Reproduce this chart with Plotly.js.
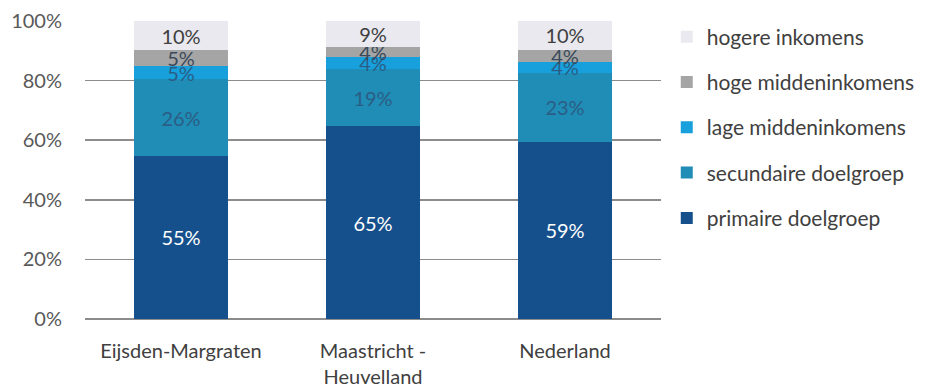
<!DOCTYPE html>
<html><head><meta charset="utf-8">
<script src="https://cdn.plot.ly/plotly-3.0.1.min.js"></script>
<style>html,body{margin:0;padding:0;background:#fff;}#chart{width:934px;height:390px;}</style>
</head><body><div id="chart"></div>
<script>
var categories = ["Eijsden-Margraten", "Maastricht -<br>Heuvelland", "Nederland"];
var seriesNames = ["primaire doelgroep", "secundaire doelgroep", "lage middeninkomens", "hoge middeninkomens", "hogere inkomens"];
var primaire = [54.8, 64.6, 59.4];
var secundaire = [25.6, 19.4, 23.2];
var lageMidden = [4.6, 3.8, 3.8];
var hogeMidden = [5.2, 3.6, 4.0];
var hogere = [9.8, 8.6, 9.6];
var seriesValues = [primaire, secundaire, lageMidden, hogeMidden, hogere];
var yTickVals = [0, 20, 40, 60, 80, 100];
var yTickText = ["0%", "20%", "40%", "60%", "80%", "100%"];

var colors = ["#16508c", "#1f8db5", "#17a0db", "#a5a5a5", "#e9e9ef"];
var textColors = ["#ffffff", "#2b5d86", "#2b5d86", "#3a4a5a", "#404040"];
var FONT = "Lato, 'Open Sans', sans-serif";

var traces = seriesValues.map(function (vals, i) {
  return {
    type: "bar",
    name: seriesNames[i],
    legendgroup: "g" + i,
    legendrank: seriesValues.length - i,
    x: categories,
    y: vals,
    marker: {color: colors[i], line: {width: 0}},
    text: vals.map(function (v) { return Math.round(v) + "%"; }),
    textposition: "inside",
    insidetextanchor: "middle",
    textangle: 0,
    constraintext: "none",
    textfont: {family: FONT, size: 20, color: textColors[i]},
    hoverinfo: "none"
  };
});

var layout = {
  width: 934, height: 390,
  margin: {l: 85, r: 273, t: 21, b: 71},
  barmode: "stack",
  bargap: 0.515,
  paper_bgcolor: "#ffffff",
  plot_bgcolor: "#ffffff",
  font: {family: FONT, size: 20, color: "#595959"},
  uniformtext: {mode: "show", minsize: 20},
  xaxis: {
    type: "category",
    showgrid: false,
    showline: false,
    zeroline: false,
    ticks: "",
    ticklabelstandoff: 18,
    tickfont: {family: FONT, size: 20, color: "#404040"}
  },
  yaxis: {
    range: [0, 100],
    tickvals: yTickVals,
    ticktext: yTickText,
    showgrid: true,
    gridcolor: "#8c8c8c",
    gridwidth: 1.5,
    zeroline: true,
    zerolinecolor: "#8c8c8c",
    zerolinewidth: 1.5,
    showline: false,
    ticks: "",
    ticklabelstandoff: 22,
    tickfont: {family: FONT, size: 20, color: "#595959"}
  },
  legend: {
    x: 1.01, y: 1.015, xanchor: "left", yanchor: "top",
    traceorder: "grouped",
    tracegroupgap: 15,
    itemwidth: 30,
    maxheight: 380,
    font: {family: FONT, size: 21, color: "#404040"},
    bgcolor: "rgba(0,0,0,0)"
  },
  showlegend: true
};

Plotly.newPlot("chart", traces, layout, {displayModeBar: false, staticPlot: true});
</script>
</body></html>
